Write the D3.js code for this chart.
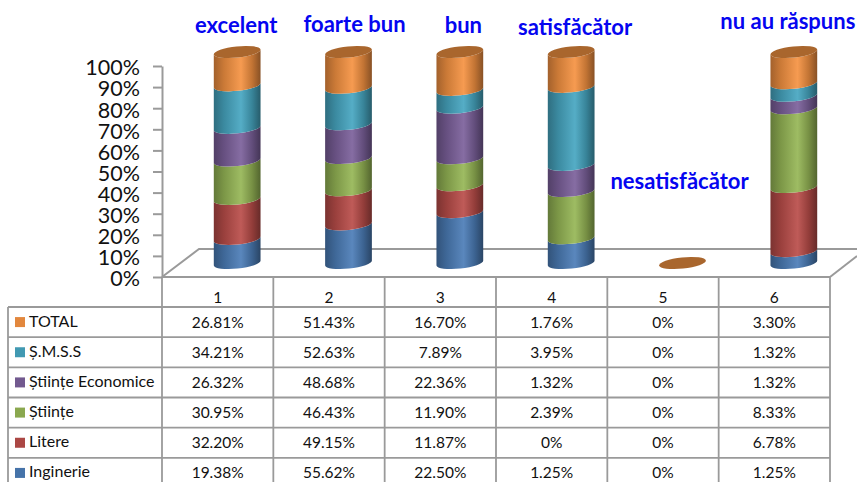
<!DOCTYPE html>
<html>
<head>
<meta charset="utf-8">
<script src="https://cdn.jsdelivr.net/npm/d3@7"></script>
<style>
  html, body { margin: 0; padding: 0; background: #fff; overflow: hidden; }
  svg { display: block; font-family: Lato, "Open Sans", sans-serif; }
</style>
</head>
<body>
<svg id="chart" width="857" height="482"></svg>
<script>
'use strict';

var categories = ['1', '2', '3', '4', '5', '6'];
var ratings = ['excelent', 'foarte bun', 'bun', 'satisfăcător', 'nesatisfăcător', 'nu au răspuns'];
var yTicks = [0, 0.1, 0.2, 0.3, 0.4, 0.5, 0.6, 0.7, 0.8, 0.9, 1];

var inginerie = [19.38, 55.62, 22.50, 1.25, 0, 1.25];
var litere = [32.20, 49.15, 11.87, 0, 0, 6.78];
var stiinte = [30.95, 46.43, 11.90, 2.39, 0, 8.33];
var economice = [26.32, 48.68, 22.36, 1.32, 0, 1.32];
var smss = [34.21, 52.63, 7.89, 3.95, 0, 1.32];
var total = [26.81, 51.43, 16.70, 1.76, 0, 3.30];

// bottom to top, same order as the stack
var seriesNames = ['Inginerie', 'Litere', 'Științe', 'Științe Economice', 'Ș.M.S.S', 'TOTAL'];
var seriesValues = [inginerie, litere, stiinte, economice, smss, total];
var seriesColors = ['#4673a9', '#ab4744', '#8aa84f', '#72598f', '#4199b2', '#e2873d'];

var svg = d3.select('#chart');
var gridColor = '#9a9a9a';

var x = d3.scaleBand().domain(categories).range([162, 830]);
var y = d3.scaleLinear().domain([0, 1]).range([277, 66]);
var rowY = d3.scaleBand()
  .domain(seriesNames.slice().reverse())
  .range([307, 488]);

// cylinders stand on the floor, a bit behind the front edge
var depthX = 19.5;
var depthY = -14;
var rx = 23.5;
var ry = 5.6;
var tilt = -6;
var tiltRad = tilt * Math.PI / 180;

var rows = categories.map(function(c, i) {
  var row = { category: c };
  seriesNames.forEach(function(name, s) {
    row[name] = seriesValues[s][i];
  });
  return row;
});
var stacked = d3.stack().keys(seriesNames).offset(d3.stackOffsetExpand)(rows);

// gradients, dark at both edges of the cylinder
var defs = svg.append('defs');
seriesColors.forEach(function(color, i) {
  var g = defs.append('linearGradient').attr('id', 'cyl' + i);
  var stops = [[0, 0.72, 0], [0.22, 0.9, 0], [0.58, 1, 0.08], [0.82, 0.86, 0], [1, 0.6, 0]];
  stops.forEach(function(s) {
    var c = d3.rgb(color);
    g.append('stop')
      .attr('offset', s[0])
      .attr('stop-color', d3.rgb(c.r * s[1] + 255 * s[2], c.g * s[1] + 255 * s[2], c.b * s[1] + 255 * s[2]));
  });
});

// y axis
var axis = svg.append('g')
  .attr('transform', 'translate(162,0)')
  .call(d3.axisLeft(y).tickValues(yTicks).tickFormat(d3.format('.0%')).tickSize(9).tickPadding(13).tickSizeOuter(0));
axis.select('.domain').attr('stroke', gridColor).attr('stroke-width', 2);
axis.selectAll('.tick line').attr('stroke', gridColor).attr('stroke-width', 2);
axis.selectAll('.tick text')
  .attr('font-size', 21.5)
  .attr('fill', '#111')
  .attr('font-family', 'Lato, sans-serif')
  .attr('transform', 'translate(0,2)');

// floor
var floorLine = d3.line();
svg.append('path')
  .attr('d', floorLine([[162, 277], [199, 249], [857, 249]]))
  .attr('fill', 'none')
  .attr('stroke', gridColor)
  .attr('stroke-width', 2);
svg.append('path')
  .attr('d', floorLine([[830, 277], [857, 256]]))
  .attr('fill', 'none')
  .attr('stroke', gridColor)
  .attr('stroke-width', 2);

// data table
var table = svg.append('g').attr('class', 'table');
var tableBottom = rowY.range()[1];

table.selectAll('line.h')
  .data(seriesNames.slice().reverse())
  .enter().append('line')
  .attr('class', 'h')
  .attr('x1', 8)
  .attr('x2', 830)
  .attr('y1', function(d) { return rowY(d); })
  .attr('y2', function(d) { return rowY(d); });

table.append('line').attr('x1', 162).attr('x2', 830).attr('y1', 277).attr('y2', 277);
table.append('line').attr('x1', 8).attr('x2', 8).attr('y1', 307).attr('y2', tableBottom);

table.selectAll('line.v')
  .data(categories)
  .enter().append('line')
  .attr('class', 'v')
  .attr('x1', function(d) { return x(d); })
  .attr('x2', function(d) { return x(d); })
  .attr('y1', 277)
  .attr('y2', tableBottom);

table.append('line').attr('x1', 830).attr('x2', 830).attr('y1', 277).attr('y2', tableBottom);
table.selectAll('line').attr('stroke', gridColor).attr('stroke-width', 1.8);

table.selectAll('text.cat')
  .data(categories)
  .enter().append('text')
  .attr('class', 'cat')
  .attr('x', function(d) { return x(d) + x.bandwidth() / 2; })
  .attr('y', 303)
  .attr('text-anchor', 'middle')
  .attr('font-size', 15.5)
  .attr('fill', '#111')
  .text(function(d) { return d; });

seriesNames.forEach(function(name, s) {
  var rowMid = rowY(name) + rowY.bandwidth() / 2;

  table.append('rect')
    .attr('x', 15)
    .attr('y', rowMid - 5)
    .attr('width', 10)
    .attr('height', 10)
    .attr('fill', seriesColors[s]);

  table.append('text')
    .attr('x', 29)
    .attr('y', rowMid + 4.5)
    .attr('font-size', 16)
    .attr('fill', '#111')
    .text(name);

  table.selectAll('text.val' + s)
    .data(seriesValues[s])
    .enter().append('text')
    .attr('class', 'val' + s)
    .attr('x', function(d, i) { return x(categories[i]) + x.bandwidth() / 2; })
    .attr('y', rowMid + 5.5)
    .attr('text-anchor', 'middle')
    .attr('font-size', 15.5)
    .attr('fill', '#111')
    .text(function(d) { return d === 0 ? '0%' : d.toFixed(2) + '%'; });
});

// cylinders
function cx(cat) {
  return x(cat) + x.bandwidth() / 2 + depthX;
}

function segmentPath(cat, v0, v1) {
  var dx = rx * Math.cos(tiltRad);
  var dy = rx * Math.sin(tiltRad);
  var c = cx(cat);
  var yt = y(v1) + depthY;
  var yb = y(v0) + depthY;
  return 'M' + (c - dx) + ',' + (yt - dy) +
    'A' + rx + ',' + ry + ' ' + tilt + ' 0 0 ' + (c + dx) + ',' + (yt + dy) +
    'L' + (c + dx) + ',' + (yb + dy) +
    'A' + rx + ',' + ry + ' ' + tilt + ' 0 1 ' + (c - dx) + ',' + (yb - dy) + 'Z';
}

stacked.forEach(function(layer, s) {
  svg.append('g').selectAll('path')
    .data(layer.filter(function(d) { return d[1] > d[0]; }))
    .enter().append('path')
    .attr('d', function(d) { return segmentPath(d.data.category, d[0], d[1]); })
    .attr('fill', 'url(#cyl' + s + ')');
});

// top caps, the last layer tells where the stack ends
svg.append('g').selectAll('ellipse')
  .data(stacked[stacked.length - 1])
  .enter().append('ellipse')
  .attr('rx', rx)
  .attr('ry', ry)
  .attr('transform', function(d) {
    return 'translate(' + cx(d.data.category) + ',' + (y(d[1]) + depthY) + ') rotate(' + tilt + ')';
  })
  .attr('fill', '#a9662d');

// rating labels over the columns, placed by eye from the picture
var labelDx = [-1, 6, 3.5, 4, -3, -6];
var labelY = [33, 32, 33, 35, 189, 29];
svg.selectAll('text.rating')
  .data(ratings)
  .enter().append('text')
  .attr('class', 'rating')
  .attr('x', function(d, i) { return cx(categories[i]) + labelDx[i]; })
  .attr('y', function(d, i) { return labelY[i]; })
  .attr('text-anchor', 'middle')
  .attr('font-size', 22)
  .attr('font-weight', 'bold')
  .attr('fill', '#0505f0')
  .text(function(d) { return d; });
</script>
</body>
</html>
